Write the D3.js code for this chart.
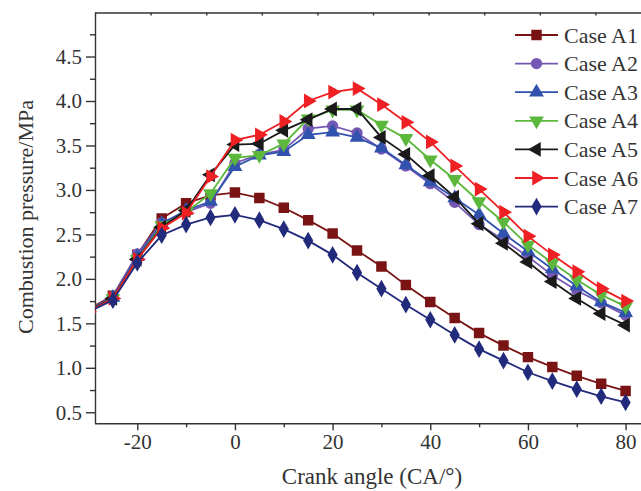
<!DOCTYPE html>
<html>
<head>
<meta charset="utf-8">
<script src="https://d3js.org/d3.v7.min.js"></script>
<style>
  body { margin: 0; background: #fff; }
  svg { display: block; font-family: "Liberation Serif", "DejaVu Serif", serif; }
  .axis path, .axis line { stroke: #333; stroke-width: 1.4; }
  .axis text { font-size: 21px; fill: #333; font-family: "Liberation Serif", serif; }
</style>
</head>
<body>
<div id="chart"></div>
<script>
// Crank angle values (°CA)
const angles = [-30, -25, -20, -15, -10, -5, 0, 5, 10, 15, 20, 25, 30, 35, 40, 45, 50, 55, 60, 65, 70, 75, 80];

// Combustion pressure (MPa) per case
const caseA1 = [1.66, 1.81, 2.27, 2.68, 2.85, 2.94, 2.97, 2.91, 2.80, 2.66, 2.51, 2.32, 2.14, 1.93, 1.74, 1.56, 1.39, 1.25, 1.12, 1.01, 0.91, 0.82, 0.74];
const caseA2 = [1.65, 1.80, 2.28, 2.63, 2.75, 2.85, 3.30, 3.40, 3.45, 3.69, 3.72, 3.64, 3.46, 3.27, 3.07, 2.86, 2.61, 2.44, 2.25, 2.04, 1.87, 1.73, 1.59];
const caseA3 = [1.65, 1.79, 2.25, 2.62, 2.77, 2.87, 3.26, 3.39, 3.43, 3.62, 3.65, 3.59, 3.47, 3.28, 3.09, 2.91, 2.72, 2.51, 2.31, 2.11, 1.92, 1.74, 1.62];
const caseA4 = [1.64, 1.78, 2.22, 2.60, 2.75, 2.96, 3.36, 3.39, 3.52, 3.80, 3.90, 3.90, 3.73, 3.58, 3.34, 3.12, 2.87, 2.64, 2.38, 2.18, 1.99, 1.82, 1.69];
const caseA5 = [1.64, 1.78, 2.22, 2.58, 2.77, 3.17, 3.51, 3.52, 3.67, 3.79, 3.91, 3.91, 3.59, 3.40, 3.16, 2.92, 2.62, 2.40, 2.19, 1.97, 1.78, 1.61, 1.48];
const caseA6 = [1.63, 1.78, 2.22, 2.57, 2.74, 3.15, 3.56, 3.62, 3.77, 4.00, 4.10, 4.14, 3.96, 3.76, 3.54, 3.27, 3.01, 2.75, 2.48, 2.27, 2.08, 1.89, 1.75];
const caseA7 = [1.63, 1.76, 2.18, 2.49, 2.61, 2.69, 2.72, 2.66, 2.56, 2.43, 2.27, 2.07, 1.89, 1.71, 1.54, 1.37, 1.21, 1.08, 0.95, 0.85, 0.76, 0.68, 0.61];

const caseNames = ["Case A1", "Case A2", "Case A3", "Case A4", "Case A5", "Case A6", "Case A7"];
const caseValues = [caseA1, caseA2, caseA3, caseA4, caseA5, caseA6, caseA7];

const xTicks = [-20, 0, 20, 40, 60, 80];
const xMinorTicks = [-10, 10, 30, 50, 70];
const yTicks = [0.5, 1.0, 1.5, 2.0, 2.5, 3.0, 3.5, 4.0, 4.5];
const yMinorTicks = [0.75, 1.25, 1.75, 2.25, 2.75, 3.25, 3.75, 4.25, 4.75];

// Styles
const colors = ["#7a1414", "#7458b4", "#3152ad", "#5cb83c", "#1a1a1a", "#ee2024", "#222a7c"];
const shapes = [
  { type: d3.symbolSquare, size: 110, rotate: 0 },
  { type: d3.symbolCircle, size: 100, rotate: 0 },
  { type: d3.symbolTriangle, size: 95, rotate: 0 },
  { type: d3.symbolTriangle, size: 95, rotate: 180 },
  { type: d3.symbolTriangle, size: 95, rotate: -90 },
  { type: d3.symbolTriangle, size: 95, rotate: 90 },
  { type: d3.symbolDiamond, size: 90, rotate: 0 }
];

const width = 641;
const height = 491;
const plot = { left: 95, right: 650, top: 12.5, bottom: 423.3 };

const svg = d3.select("#chart").append("svg")
  .attr("width", width)
  .attr("height", height);

const x = d3.scaleLinear().domain([-28.66, 85]).range([plot.left, plot.right]);
const y = d3.scaleLinear().domain([0.376, 4.995]).range([plot.bottom, plot.top]);
// top frame carries its own evenly spaced ticks
const xTop = d3.scaleLinear().domain([0, 100]).range([plot.left, plot.left + 556]);

svg.append("defs").append("clipPath").attr("id", "clip")
  .append("rect")
  .attr("x", plot.left).attr("y", plot.top)
  .attr("width", plot.right - plot.left).attr("height", plot.bottom - plot.top);

// Axes
svg.append("g").attr("class", "axis")
  .attr("transform", `translate(0,${plot.bottom})`)
  .call(d3.axisBottom(x).tickValues(xMinorTicks).tickSize(4).tickFormat(""))
  .select(".domain").remove();

svg.append("g").attr("class", "axis")
  .attr("transform", `translate(0,${plot.bottom})`)
  .call(d3.axisBottom(x).tickValues(xTicks).tickSize(7).tickPadding(4).tickFormat(d => String(d)))
  .call(g => g.select(".domain").attr("d", `M${plot.left},0.5H${plot.right}`));

svg.append("g").attr("class", "axis")
  .attr("transform", `translate(${plot.left},0)`)
  .call(d3.axisLeft(y).tickValues(yMinorTicks).tickSize(5).tickFormat(""))
  .select(".domain").remove();

svg.append("g").attr("class", "axis")
  .attr("transform", `translate(${plot.left},0)`)
  .call(d3.axisLeft(y).tickValues(yTicks).tickSize(9).tickPadding(4).tickFormat(d3.format(".1f")))
  .call(g => g.select(".domain").attr("d", `M0.5,${plot.top}V${plot.bottom}`));

svg.append("g").attr("class", "axis")
  .attr("transform", `translate(0,${plot.top})`)
  .call(d3.axisBottom(xTop).tickValues(d3.range(10, 100, 10)).tickSize(3).tickFormat(""))
  .call(g => g.select(".domain").attr("d", `M${plot.left},0.5H${plot.right}`));

// Axis titles
svg.append("text")
  .attr("x", 372).attr("y", 484)
  .attr("text-anchor", "middle")
  .attr("font-size", 23).attr("fill", "#333")
  .text("Crank angle (CA/°)");

svg.append("text")
  .attr("transform", `translate(33,217) rotate(-90)`)
  .attr("text-anchor", "middle")
  .attr("font-size", 22).attr("fill", "#333")
  .text("Combustion pressure/MPa");

// Series
const line = d3.line().x(d => x(d[0])).y(d => y(d[1]));
const dataG = svg.append("g").attr("clip-path", "url(#clip)");

caseValues.forEach((vals, i) => {
  const pts = angles.map((a, j) => [a, vals[j]]);
  const g = dataG.append("g");
  g.append("path")
    .datum(pts)
    .attr("d", line)
    .attr("fill", "none")
    .attr("stroke", colors[i])
    .attr("stroke-width", 1.8);
  g.selectAll("path.mark")
    .data(pts)
    .join("path")
    .attr("class", "mark")
    .attr("d", d3.symbol().type(shapes[i].type).size(shapes[i].size))
    .attr("transform", d => `translate(${x(d[0])},${y(d[1])}) rotate(${shapes[i].rotate})`)
    .attr("fill", colors[i]);
});

// Legend
const legend = svg.append("g").attr("transform", "translate(515,35)");
caseNames.forEach((name, i) => {
  const row = legend.append("g").attr("transform", `translate(0,${i * 28.6})`);
  row.append("line")
    .attr("x1", 0).attr("x2", 43)
    .attr("stroke", colors[i]).attr("stroke-width", 1.8);
  row.append("path")
    .attr("d", d3.symbol().type(shapes[i].type).size(shapes[i].size))
    .attr("transform", `translate(21.5,0) rotate(${shapes[i].rotate})`)
    .attr("fill", colors[i]);
  row.append("text")
    .attr("x", 49).attr("y", 7.5)
    .attr("font-size", 22).attr("fill", "#333")
    .text(name);
});
</script>
</body>
</html>
